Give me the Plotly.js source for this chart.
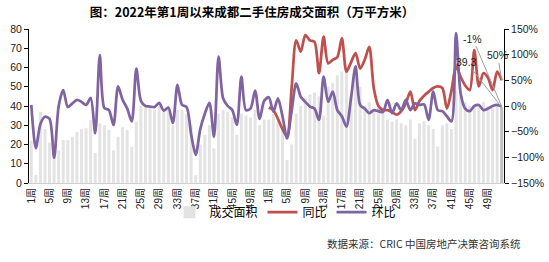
<!DOCTYPE html>
<html><head><meta charset="utf-8">
<script src="https://cdn.plot.ly/plotly-3.0.1.min.js"></script>
<style>html,body{margin:0;padding:0;background:#fff;}#chart{width:549px;height:262px;}</style>
</head><body><div id="chart"></div>
<script>
// week labels (two years, 52 weeks each)
const weekLabels = [];
for (let y = 0; y < 2; y++) for (let w = 1; w <= 52; w++) weekLabels.push(w + "周");
const tickLabels = ["1周","5周","9周","13周","17周","21周","25周","29周","33周","37周","41周","45周","49周",
                    "1周","5周","9周","13周","17周","21周","25周","29周","33周","37周","41周","45周","49周"];
const tickIndex = [0,4,8,12,16,20,24,28,32,36,40,44,48,52,56,60,64,68,72,76,80,84,88,92,96,100];

// 成交面积 (万平方米)
const area = [
 22,4.2,37,28,21,14,17,22.3,22.3,24,26.6,28,28.4,32.7,15.6,31,30,27.5,17,24,29,27.5,18.9,31.8,40,39,
 39,38,40,37,38,30,38,38,36,30,4,20,25,30,18,36,38,37,34,25,36,35,34,38,30,33,
 33,36,32,30,12,20,36,40,44,46,47,45,35,50,52,56,58,60,45,55,50,40,42,38,39,36,
 33,32,33,31,30,33,23,31,32,30,28,19,30,31,28,48,47,42,40,40,41,42,40,39,40,39.3
];
// 同比
const yoy = [
 null,null,null,null,null,null,null,null,null,null,null,null,null,null,null,null,null,null,null,null,null,null,null,null,null,null,
 null,null,null,null,null,null,null,null,null,null,null,null,null,null,null,null,null,null,null,null,null,null,null,null,null,null,
 -0.03,-0.08,-0.25,-0.45,-0.60,0.35,1.28,1.06,1.38,1.28,1.25,0.64,1.35,0.83,0.90,0.95,1.32,0.67,0.85,1.03,0.73,0.90,1.15,0.34,0.00,-0.08,
 -0.08,-0.12,-0.17,-0.10,0.05,0.28,-0.08,0.10,0.20,0.28,0.35,0.38,0.35,-0.05,0.30,0.77,0.57,0.40,0.31,1.09,0.38,0.64,0.55,0.31,0.67,0.50
];
// 环比
const mom = [
 0.02,-0.82,-0.35,-0.21,-0.25,-1.01,0.00,0.31,-0.02,0.05,0.12,0.08,0.02,0.16,-0.53,0.99,-0.04,-0.08,-0.37,0.38,0.12,-0.05,-0.30,0.73,0.10,0.00,
 -0.01,-0.02,0.06,-0.09,-0.03,-0.33,0.41,0.02,-0.02,-0.55,-0.95,-0.45,-0.15,0.06,-0.60,0.96,0.15,0.00,-0.08,-0.37,0.57,-0.08,-0.05,0.30,-0.25,0.10,
 0.17,-0.11,0.15,-0.20,-0.63,-0.10,0.44,0.18,0.08,-0.01,-0.05,-0.27,0.57,0.08,0.28,-0.08,-0.20,-0.40,0.15,0.77,0.02,-0.05,-0.14,-0.08,-0.10,-0.12,
 0.12,-0.14,0.05,-0.08,0.12,-0.08,0.05,0.02,0.03,-0.27,0.28,-0.08,-0.10,-0.20,-0.30,1.42,0.25,-0.05,-0.10,0.00,0.02,-0.08,-0.05,0.00,0.02,-0.01
];

const idx = weekLabels.map((_, i) => i);
const n = idx.length;
const barColors = idx.map(i => i === n - 1 ? '#bfbfbf' : '#e3e3e3');
const fontFam = 'Liberation Sans, Noto Sans CJK SC, sans-serif';

const traces = [
 {type:'bar', x: idx, y: area, name:'成交面积', marker:{color: barColors}, hoverinfo:'skip'},
 {type:'scatter', mode:'lines', x: idx, y: yoy, yaxis:'y2', name:'同比',
  line:{color:'#c0504d', width:2.75, shape:'spline', smoothing:0.8}, connectgaps:false},
 {type:'scatter', mode:'lines', x: idx, y: mom, yaxis:'y2', name:'环比',
  line:{color:'#8064a2', width:2.75, shape:'spline', smoothing:0.8}}
];

const last = n - 1;
const layout = {
 width:549, height:262,
 margin:{l:29, r:45, t:29, b:79},
 paper_bgcolor:'#fff', plot_bgcolor:'rgba(0,0,0,0)',
 bargap:0.35,
 showlegend:true,
 title:{text:'图：2022年第1周以来成都二手住房成交面积（万平方米）', x:0.459, xanchor:'center', y:0.95, yanchor:'middle',
        font:{family:'Noto Sans CJK SC, sans-serif', size:12.5, color:'#000', weight:'bold'}},
 xaxis:{type:'linear', range:[-0.5, n-0.5], tickmode:'array', tickvals:tickIndex, ticktext:tickLabels,
        tickangle:-90, showgrid:false, zeroline:false, showline:true, linecolor:'#d0d0d0', ticks:'',
        tickfont:{family:fontFam, size:10, color:'#222'}, fixedrange:true},
 yaxis:{range:[0,80], dtick:10, showgrid:false, zeroline:false, showline:true, linecolor:'#000', linewidth:1,
        ticks:'outside', ticklen:4, tickcolor:'#000', tickfont:{family:fontFam, size:10.5, color:'#222'}},
 yaxis2:{range:[-1.5,1.5], dtick:0.5, tickformat:'.0%', overlaying:'y', side:'right', showgrid:false, zeroline:false,
        showline:true, linecolor:'#000', linewidth:1, ticks:'outside', ticklen:4, tickcolor:'#000',
        tickfont:{family:fontFam, size:10.5, color:'#222'}},
 legend:{orientation:'h', x:0.54, xanchor:'center', y:-0.095, yanchor:'top', bgcolor:'rgba(0,0,0,0)',
        font:{family:'Noto Sans CJK SC, sans-serif', size:12, color:'#000'}, itemwidth:30, tracegroupgap:0},
 annotations:[
  {x:last, y:mom[last], xref:'x', yref:'y2', text:'-1%', showarrow:true, arrowhead:0, arrowwidth:1, arrowcolor:'#a0a0a0',
   ax:-29, ay:-68, font:{family:fontFam, size:10.5, color:'#222'}},
  {x:last, y:yoy[last], xref:'x', yref:'y2', text:'50%', showarrow:true, arrowhead:0, arrowwidth:1, arrowcolor:'#a0a0a0',
   ax:-4, ay:-25, font:{family:fontFam, size:10.5, color:'#222'}},
  {x:last, y:area[last], xref:'x', yref:'y', text:String(area[last]), showarrow:true, arrowhead:0, arrowwidth:1, arrowcolor:'#a0a0a0',
   ax:-35, ay:-45, font:{family:fontFam, size:10.5, color:'#222'}},
  {x:0, y:0, xref:'paper', yref:'paper', text:'数据来源：CRIC 中国房地产决策咨询系统', showarrow:false,
   font:{family:'Noto Sans CJK SC, sans-serif', size:10.5, color:'#333'}}
 ]
};
// source note positioned in pixel terms via paper coords
layout.annotations[3].x = (523 - 29) / (549 - 29 - 45);
layout.annotations[3].xanchor = 'right';
layout.annotations[3].y = (183 - 243) / (183 - 29);
layout.annotations[3].yanchor = 'middle';

Plotly.newPlot('chart', traces, layout, {displayModeBar:false, staticPlot:true});
</script></body></html>
